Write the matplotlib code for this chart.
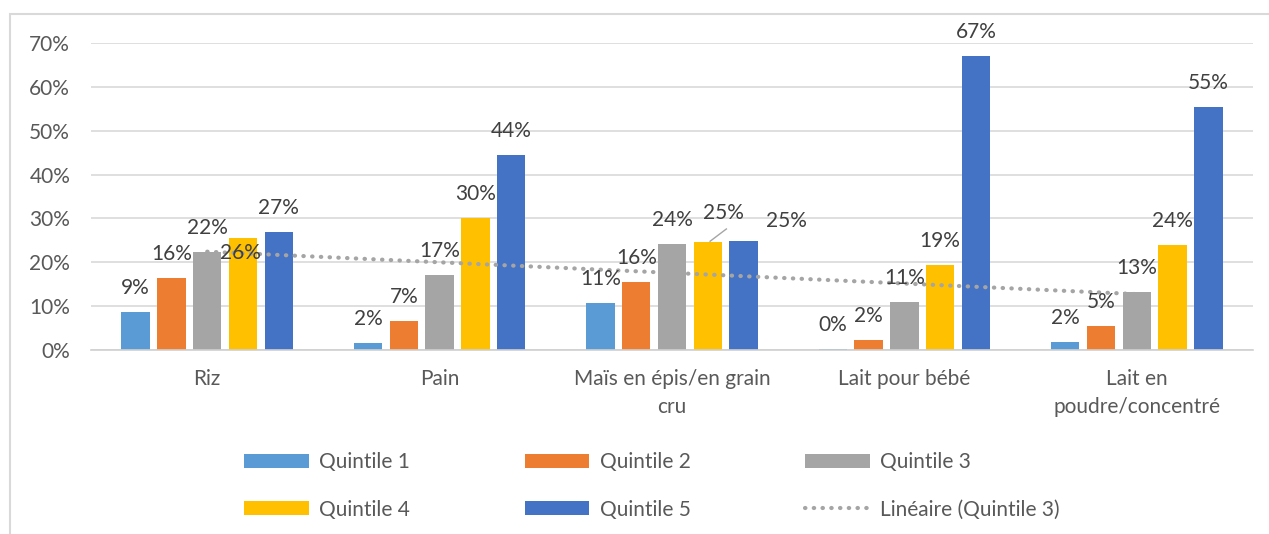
import numpy as np
import matplotlib.pyplot as plt
from matplotlib.patches import Rectangle
from matplotlib.lines import Line2D

plt.rcParams['font.family'] = ['Lato', 'DejaVu Sans']

categories = ['Riz', 'Pain', 'Maïs en épis/en grain\ncru', 'Lait pour bébé', 'Lait en\npoudre/concentré']
series = ['Quintile 1', 'Quintile 2', 'Quintile 3', 'Quintile 4', 'Quintile 5']
q1 = [8.6, 1.7, 10.8, 0.2, 1.9]
q2 = [16.4, 6.6, 15.6, 2.2, 5.4]
q3 = [22.3, 17.2, 24.1, 11.0, 13.3]
q4 = [25.6, 30.2, 24.6, 19.4, 23.9]
q5 = [26.9, 44.4, 24.9, 67.0, 55.4]
values = [q1, q2, q3, q4, q5]
colors = ['#5B9BD5', '#ED7D31', '#A5A5A5', '#FFC000', '#4472C4']

# label nudges in points, keyed (series, category), where excel moved them
nudge = {(3, 0): (-2, -28), (3, 2): (11, 4), (4, 2): (31, -3)}

fig = plt.figure(figsize=(12.69, 5.34), dpi=100)
ax = fig.add_axes([91 / 1269, 1 - 350 / 534, (1253 - 91) / 1269, (350 - 43) / 534])

x = np.arange(len(categories))
step = 0.154
width = 0.122
for i, (name, vals, c) in enumerate(zip(series, values, colors)):
    pos = x + (i - 2) * step
    ax.bar(pos, vals, width, color=c, label=name, zorder=2)
    for j, (p, v) in enumerate(zip(pos, vals)):
        dx, dy = nudge.get((i, j), (0, 0))
        ax.annotate(f'{round(v):.0f}%', (p, v), xytext=(dx, 10 + dy), textcoords='offset points',
                    ha='center', va='bottom', fontsize=15, color='#404040', zorder=4)

# leader line for the Maïs Q4 label
ax.plot([x[2] + step + 0.01, x[2] + step + 0.08], [24.8, 27.6], color='#A5A5A5', lw=1, zorder=3)

# linear trend of quintile 3
coef = np.polyfit(x, q3, 1)
ax.plot(x, np.polyval(coef, x), color='#A5A5A5', lw=3,
        linestyle=(0, (0.1, 2.0)), dash_capstyle='round', zorder=3)

ax.set_xlim(-0.5, 4.5)
ax.set_ylim(0, 70)
ax.set_yticks(range(0, 71, 10))
ax.set_yticklabels([f'{t}%' for t in range(0, 71, 10)])
ax.set_xticks(x)
ax.set_xticklabels(categories, linespacing=1.5)
ax.tick_params(axis='both', length=0, labelsize=15, labelcolor='#595959')
ax.tick_params(axis='y', pad=15)
ax.tick_params(axis='x', pad=14)
ax.grid(axis='y', color='#D9D9D9', lw=1.2, zorder=0)
for s in ['top', 'right', 'left']:
    ax.spines[s].set_visible(False)
ax.spines['bottom'].set_color('#D0D0D0')
ax.spines['bottom'].set_linewidth(1.2)

# chart border
fig.patches.append(Rectangle((10 / 1269, -0.2), 1.2, 1.2 - 14 / 534, transform=fig.transFigure,
                             fill=False, edgecolor='#D9D9D9', lw=1.5))

handles, labels = ax.get_legend_handles_labels()
lin = Line2D([], [], color='#A5A5A5', lw=3, linestyle=(0, (0.1, 2.0)), dash_capstyle='round')
order = [0, 3, 1, 4, 2]
h = [handles[k] for k in order] + [lin]
l = [labels[k] for k in order] + ['Linéaire (Quintile 3)']
leg = fig.legend(h, l, ncol=3, loc='center', bbox_to_anchor=(652 / 1269, 1 - 486 / 534),
                 frameon=False, fontsize=15, handlelength=3.1, handleheight=0.67,
                 columnspacing=5.5, labelspacing=1.3, handletextpad=0.5)
for t in leg.get_texts():
    t.set_color('#595959')

fig.savefig('out.png', dpi=100)
